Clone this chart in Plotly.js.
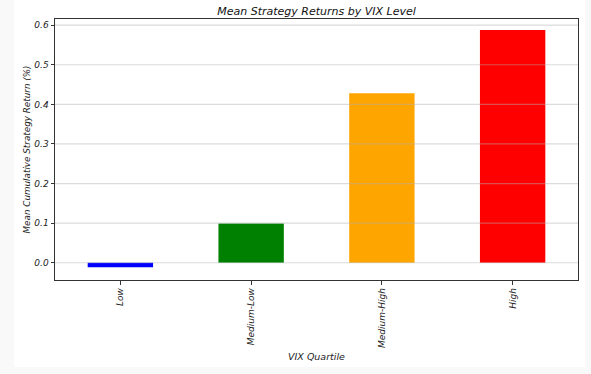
<!DOCTYPE html>
<html>
<head>
<meta charset="utf-8">
<script src="https://cdn.plot.ly/plotly-3.0.1.min.js"></script>
<style>
  html, body { margin: 0; padding: 0; background: #f9f9f9; }
  #panel { position: absolute; left: 14px; top: 0px; width: 571px; height: 367px; background: #ffffff; }
  #chart { position: absolute; left: 0; top: 0; width: 591px; height: 374px; }
</style>
</head>
<body>
<div id="panel"></div>
<div id="chart"></div>
<script>
const categories = ["Low", "Medium-Low", "Medium-High", "High"];
const meanReturns = [-0.011, 0.099, 0.428, 0.588];
const barColors = ["#0000ff", "#008000", "#ffa500", "#ff0000"];
const yTickVals = [0.0, 0.1, 0.2, 0.3, 0.4, 0.5, 0.6];
const yTickText = ["0.0", "0.1", "0.2", "0.3", "0.4", "0.5", "0.6"];

const font = "DejaVu Sans, sans-serif";

const gridShapes = yTickVals.map(v => ({
  type: "line", xref: "paper", yref: "y", x0: 0, x1: 1, y0: v, y1: v,
  layer: "above", line: { color: "rgba(176,176,176,0.45)", width: 1.2 }
}));

const trace = {
  type: "bar",
  x: categories,
  y: meanReturns,
  width: 0.5,
  marker: { color: barColors, line: { width: 0 } },
  hoverinfo: "x+y"
};

const layout = {
  width: 591, height: 374,
  paper_bgcolor: "rgba(0,0,0,0)",
  plot_bgcolor: "rgba(0,0,0,0)",
  margin: { l: 55, r: 13, t: 19, b: 94, pad: 0 },
  showlegend: false,
  font: { family: font, size: 9, color: "#222" },
  title: {
    text: "<i>Mean Strategy Returns by VIX Level</i>",
    font: { family: font, size: 11, color: "#111" },
    x: 0.5, xanchor: "center", xref: "paper",
    y: 1 - 11 / 374, yanchor: "middle"
  },
  xaxis: {
    type: "category",
    categoryorder: "array", categoryarray: categories,
    range: [-0.5, 3.5],
    tickangle: -90,
    ticks: "outside", ticklen: 3.5, tickwidth: 1, tickcolor: "#333",
    showline: true, linecolor: "#333", linewidth: 1, mirror: true,
    showgrid: false, zeroline: false,
    tickfont: { family: font, size: 9, color: "#222", style: "italic" },
    title: { text: "<i>VIX Quartile</i>", font: { family: font, size: 9.5, color: "#222" }, standoff: 6 },
    automargin: false
  },
  yaxis: {
    range: [-0.0435, 0.6155],
    tickvals: yTickVals, ticktext: yTickText,
    ticks: "outside", ticklen: 3.5, tickwidth: 1, tickcolor: "#333",
    showline: true, linecolor: "#333", linewidth: 1, mirror: true,
    showgrid: false, zeroline: false,
    tickfont: { family: font, size: 9, color: "#222", style: "italic" },
    title: { text: "<i>Mean Cumulative Strategy Return (%)</i>", font: { family: font, size: 8.8, color: "#222" }, standoff: 2 },
    automargin: false
  },
  shapes: gridShapes
};

Plotly.newPlot("chart", [trace], layout, { displayModeBar: false, staticPlot: true });
</script>
</body>
</html>
